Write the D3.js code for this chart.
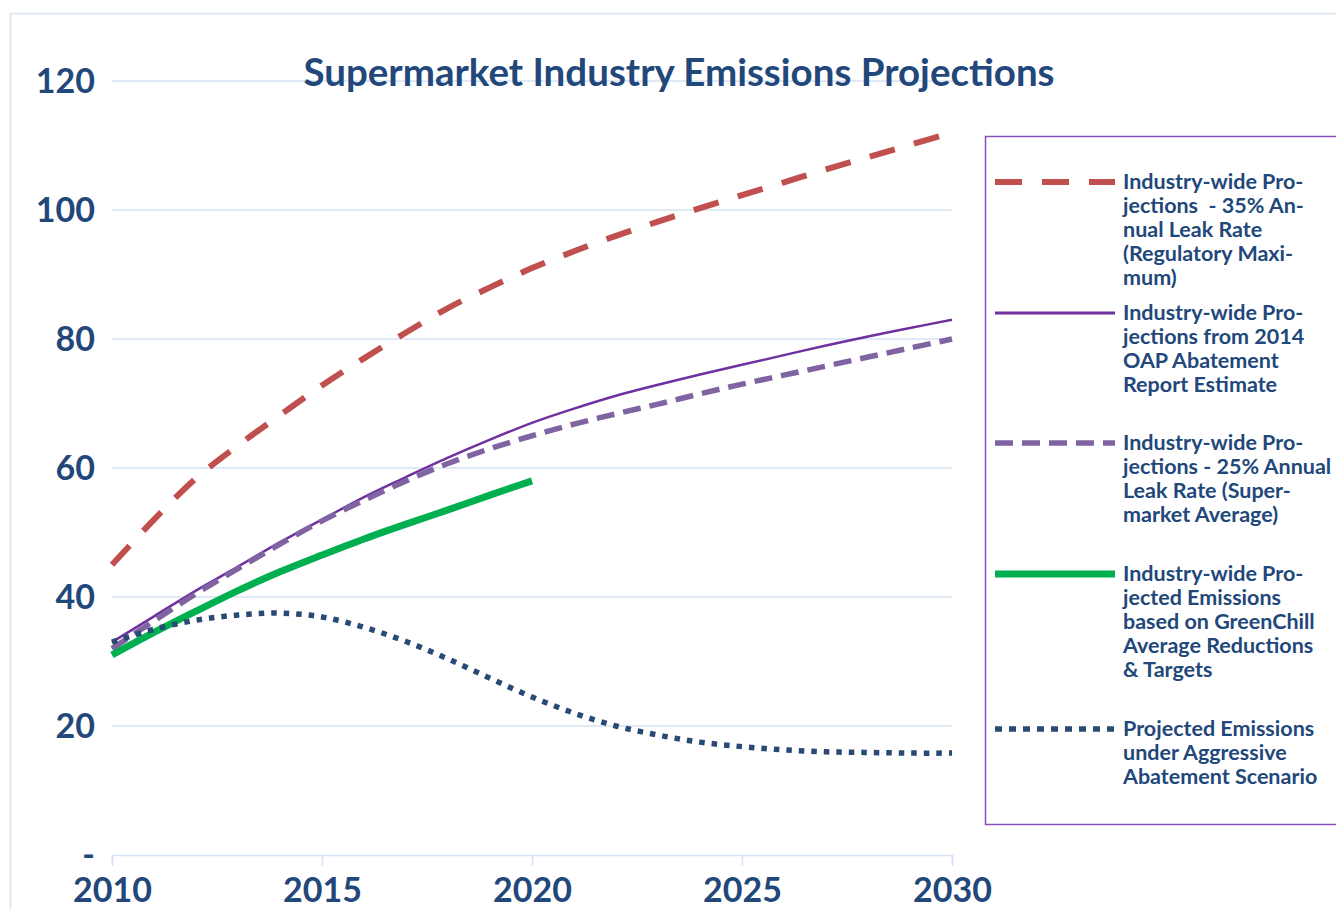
<!DOCTYPE html>
<html>
<head>
<meta charset="utf-8">
<script src="https://cdn.jsdelivr.net/npm/d3@7"></script>
<style>
  body { margin: 0; background: #fff; }
  svg { display: block; font-family: Lato, "Open Sans", sans-serif; }
</style>
</head>
<body>
<svg id="chart" width="1336" height="909"></svg>
<script>
// chart data
const years = d3.range(2010, 2031);
const leak35 = [45, 52, 58.4, 63.5, 68.2, 72.8, 77, 81, 84.8, 88, 91, 93.6, 96, 98.2, 100.3, 102.3, 104.3, 106.3, 108.2, 110.1, 112];
const oap2014 = [33, 37, 41, 44.7, 48.5, 52, 55.5, 58.6, 61.6, 64.4, 67, 69.2, 71.2, 72.9, 74.5, 76, 77.5, 79, 80.4, 81.7, 83];
const leak25 = [32, 36.3, 40.5, 44.4, 48.2, 51.8, 55, 58, 60.7, 63, 65, 66.8, 68.4, 69.9, 71.5, 73, 74.4, 75.8, 77.2, 78.6, 80];
const greenChill = [31, 34.5, 37.8, 41, 43.9, 46.5, 49, 51.3, 53.5, 55.8, 58];
const aggressive = [33, 35, 36.4, 37.2, 37.5, 36.9, 35.3, 33.1, 30.4, 27.4, 24.5, 22, 20, 18.6, 17.5, 16.8, 16.3, 16.0, 15.9, 15.8, 15.8];
const yTicks = [0, 20, 40, 60, 80, 100, 120];
const xTicks = [2010, 2015, 2020, 2025, 2030];

const series = [
  { name: "Industry-wide Pro-|jections  - 35% An-|nual Leak Rate|(Regulatory Maxi-|mum)", values: leak35,
    color: "#c0504d", width: 6, dash: "26,20", legendDash: "27,20", ly: 182 },
  { name: "Industry-wide Pro-|jections from 2014|OAP Abatement|Report Estimate", values: oap2014,
    color: "#7030a0", width: 2.5, dash: null, ly: 313 },
  { name: "Industry-wide Pro-|jections - 25% Annual|Leak Rate (Super-|market Average)", values: leak25,
    color: "#8064a2", width: 5.5, dash: "18,9", legendDash: "18,9", ly: 443 },
  { name: "Industry-wide Pro-|jected Emissions|based on GreenChill|Average Reductions|& Targets", values: greenChill,
    color: "#00b050", width: 7, dash: null, ly: 574 },
  { name: "Projected Emissions|under Aggressive|Abatement Scenario", values: aggressive,
    color: "#284a75", width: 5.5, dash: "5.5,7", legendDash: "7,7", ly: 729 }
];

const textColor = "#22477a";
const gridColor = "#d6e3f4";

const svg = d3.select("#chart");

// outer chart frame
svg.append("rect")
  .attr("x", 10.5).attr("y", 13.5)
  .attr("width", 1400).attr("height", 950)
  .attr("fill", "none").attr("stroke", "#d8e4f3").attr("stroke-width", 1.5);

const x = d3.scaleLinear().domain([2010, 2030]).range([112, 952]);
const y = d3.scaleLinear().domain([0, 120]).range([855, 81]);

// gridlines
svg.append("g")
  .selectAll("line")
  .data(yTicks.slice(1))
  .join("line")
  .attr("x1", x(2010)).attr("x2", x(2030))
  .attr("y1", d => y(d)).attr("y2", d => y(d))
  .attr("stroke", gridColor).attr("stroke-width", 1.5);

// y axis labels
svg.append("g")
  .selectAll("text")
  .data(yTicks)
  .join("text")
  .attr("x", 95)
  .attr("y", d => y(d) + 12)
  .attr("text-anchor", "end")
  .attr("fill", textColor)
  .attr("font-size", 34)
  .attr("font-weight", "bold")
  .text(d => d === 0 ? "-" : d);

// x axis
const xAxis = svg.append("g")
  .attr("transform", `translate(0,${y(0)})`)
  .call(d3.axisBottom(x).tickValues(xTicks).tickFormat(d3.format("d")).tickSizeOuter(0).tickSize(11).tickPadding(12));
xAxis.select(".domain").attr("stroke", gridColor).attr("stroke-width", 1.5);
xAxis.selectAll(".tick line").attr("stroke", gridColor).attr("stroke-width", 1.5);
xAxis.selectAll(".tick text")
  .attr("fill", textColor)
  .attr("font-size", 34)
  .attr("font-weight", "bold")
  .attr("font-family", "Lato, sans-serif");

// lines
const line = d3.line()
  .x((d, i) => x(years[i]))
  .y(d => y(d))
  .curve(d3.curveCatmullRom.alpha(0.5));

svg.append("g")
  .selectAll("path")
  .data(series)
  .join("path")
  .attr("d", d => line(d.values))
  .attr("fill", "none")
  .attr("stroke", d => d.color)
  .attr("stroke-width", d => d.width)
  .attr("stroke-dasharray", d => d.dash);

// title
svg.append("text")
  .attr("x", 679).attr("y", 86)
  .attr("text-anchor", "middle")
  .attr("fill", textColor)
  .attr("font-size", 38.5)
  .attr("font-weight", "bold")
  .text("Supermarket Industry Emissions Projections");

// legend
const legend = svg.append("g");
legend.append("rect")
  .attr("x", 985.5).attr("y", 136.5)
  .attr("width", 400).attr("height", 688)
  .attr("fill", "#fff").attr("stroke", "#8a50c0").attr("stroke-width", 1.5);

const items = legend.selectAll("g.item")
  .data(series)
  .join("g")
  .attr("class", "item");

items.append("line")
  .attr("x1", 995).attr("x2", 1115)
  .attr("y1", d => d.ly).attr("y2", d => d.ly)
  .attr("stroke", d => d.color)
  .attr("stroke-width", d => Math.max(d.width, 3))
  .attr("stroke-dasharray", d => d.legendDash || null);

items.each(function(d) {
  const t = d3.select(this).append("text")
    .attr("fill", textColor)
    .attr("font-size", 21.5)
    .attr("font-weight", "bold");
  d.name.split("|").forEach((s, i) => {
    t.append("tspan")
      .attr("x", 1123)
      .attr("y", d.ly + 7 + i * 24)
      .attr("xml:space", "preserve")
      .text(s);
  });
});
</script>
</body>
</html>
